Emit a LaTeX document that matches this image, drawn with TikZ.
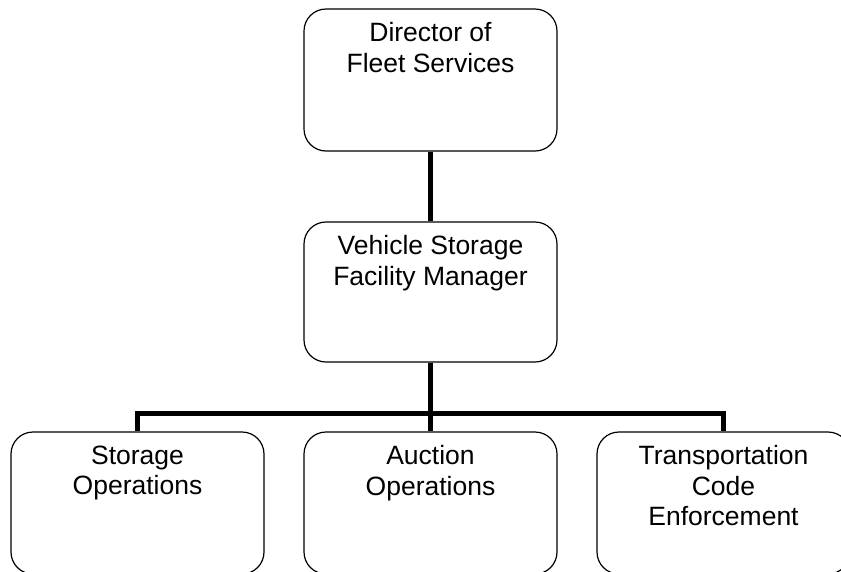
\documentclass[tikz,border=0pt]{standalone}
\usepackage{fontspec}
\setmainfont{Liberation Sans}
\usetikzlibrary{positioning}

\tikzset{
  orgbox/.style={draw=black, line width=1.2pt, rounded corners=22pt,
    minimum width=253pt, minimum height=142pt, inner sep=0pt},
  orgtext/.style={font=\fontsize{26.5}{30.5}\selectfont, align=center,
    inner sep=0pt, anchor=north, yshift=-14pt},
  orglink/.style={line width=4.5pt}
}

\begin{document}
\begin{tikzpicture}[x=1pt, y=-1pt]
  \useasboundingbox (0,0) rectangle (841,571);
  \clip (0,0) rectangle (841,571);
  % boxes
  \node[orgbox] (dir) at (430.5,80) {};
  \node[orgbox, minimum height=140pt] (mgr) at (430.5,292) {};
  \node[orgbox] (sto) at (137.5,503) {};
  \node[orgbox] (auc) at (430.5,503) {};
  \node[orgbox] (enf) at (723.5,503) {};
  % texts
  \node[orgtext] (dirtxt) at (dir.north) {Director of\\Fleet Services};
  \node[orgtext] (mgrtxt) at (mgr.north) {Vehicle Storage\\Facility Manager};
  \node[orgtext] (stotxt) at (sto.north) {Storage\\Operations};
  \node[orgtext] (auctxt) at (auc.north) {Auction\\Operations};
  \node[orgtext] (enftxt) at (enf.north) {Transportation\\Code\\Enforcement};
  % connectors
  \coordinate (bus) at (430.5,413.5);
  \draw[orglink] (dir.south) -- (mgr.north);
  \draw[orglink] (mgr.south) -- (auc.north);
  \draw[orglink] (sto.north) |- (bus) -| (enf.north);
\end{tikzpicture}
\end{document}
